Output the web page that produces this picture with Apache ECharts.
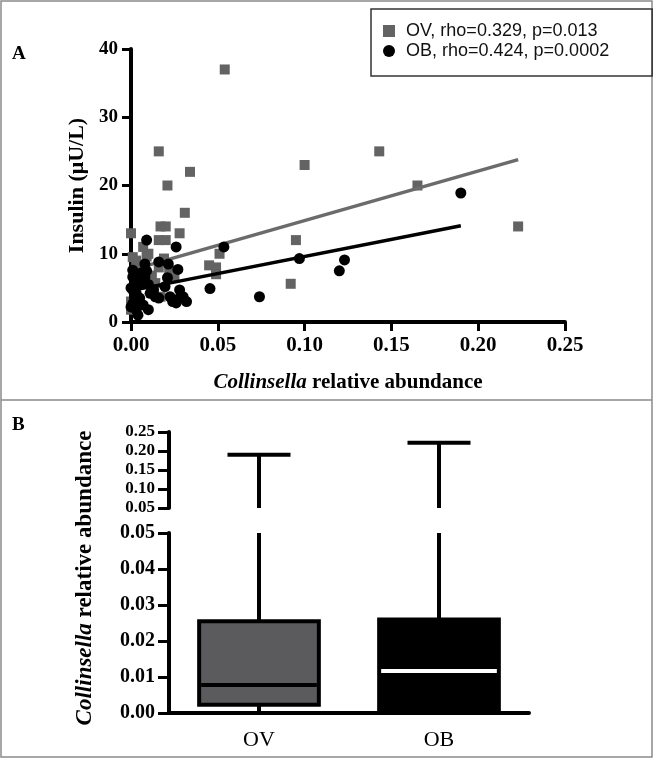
<!DOCTYPE html>
<html>
<head>
<meta charset="utf-8">
<script src="https://cdn.jsdelivr.net/npm/echarts@6/dist/echarts.min.js"></script>
<style>
html,body{margin:0;padding:0;background:#fff;}
#chart{width:655px;height:760px;}
</style>
</head>
<body>
<div id="chart"></div>
<script>
// ---------- Panel A data ----------
const xTickLabels = ['0.00','0.05','0.10','0.15','0.20','0.25'];
const yTickLabels = ['0','10','20','30','40'];
const legendOV = 'OV, rho=0.329, p=0.013';
const legendOB = 'OB, rho=0.424, p=0.0002';
const ovPoints = [
  [0.054,37],[0.016,25],[0.034,22],[0.021,20],[0.100,23],[0.143,25],[0.165,20],[0.223,14],
  [0.095,12],[0.092,5.6],[0.031,16],[0.028,13],[0.000,13],[0.017,14],[0.020,14],[0.016,12],
  [0.020,12],[0.045,8.3],[0.049,8],[0.049,7],[0.051,10],[0.007,11],[0.010,10],[0.001,9.5],
  [0.003,9],[0.019,9.3],[0.014,5.7],[0.017,3.7],[0.000,1.8],[0.022,7.5],[0.025,6.5],
  [0.004,8],[0.012,6.8],[0.000,3],[0.009,9.6],[0.016,8]
];
const obPoints = [
  [0.009,12],[0.026,11],[0.0535,11],[0.016,8.8],[0.0215,8.5],[0.027,7.7],[0.021,6.5],
  [0.008,8.5],[0.009,7.5],[0.008,6.6],[0.001,7.6],[0.001,6.6],[0.002,5.7],[0.001,4.7],
  [0.002,3.7],[0.001,2.7],[0.003,1.8],[0.004,1.0],[0.010,1.8],[0.011,4.2],[0.014,3.7],
  [0.013,4.7],[0.0225,3.7],[0.024,3.0],[0.028,4.7],[0.030,3.7],[0.032,3.0],[0.0196,5.2],
  [0.0455,4.9],[0.074,3.7],[0.097,9.3],[0.120,7.5],[0.123,9.1],[0.190,18.9],[0.006,5.5],
  [0.005,3.5],[0.007,2.5],[0.004,6.2],[0.003,4.2],[0.006,7.2],[0.000,5.0],[0.000,2.2],
  [0.010,5.5],[0.026,2.8],[0.028,3.5],[0.016,3.5]
];
const ovFit = [[0.000,7.6],[0.223,23.8]];
const obFit = [[0.000,4.6],[0.190,14.1]];

// ---------- Panel B data ----------
const boxCategories = ['OV','OB'];
// [min, Q1, median, Q3, max]
const boxOV = [0.000, 0.0023, 0.0078, 0.0255, 0.190];
const boxOB = [0.000, 0.0009, 0.0117, 0.0260, 0.222];
const lowerTicks = ['0.00','0.01','0.02','0.03','0.04','0.05'];
const upperTicks = ['0.05','0.10','0.15','0.20','0.25'];

const SERIF = '"Liberation Serif","DejaVu Serif",serif';
const SANS = '"Liberation Sans",Arial,sans-serif';

const BREAK_LO = 0.05;   // top of lower segment
const BREAK_HI = 0.05;   // bottom of upper segment
const boxes = [
  {stats: boxOV, fill: '#5b5b5d', median: '#000000'},
  {stats: boxOB, fill: '#000000', median: '#ffffff'}
];

function lowerRender(params, api) {
  const idx = api.value(0);
  const b = boxes[idx];
  const s = b.stats;
  const clamp = v => Math.min(v, BREAK_LO);
  const band = api.size([1, 0])[0];
  const bw = band * 0.665;
  const cx = api.coord([idx, 0])[0];
  const yQ1 = api.coord([idx, clamp(s[1])])[1];
  const yQ3 = api.coord([idx, clamp(s[3])])[1];
  const yMed = api.coord([idx, clamp(s[2])])[1];
  const yMin = api.coord([idx, clamp(s[0])])[1];
  const yTop = api.coord([idx, clamp(s[4])])[1];
  return {type: 'group', children: [
    {type: 'line', shape: {x1: cx, y1: yQ3, x2: cx, y2: yTop}, style: {stroke: '#000', lineWidth: 4}},
    {type: 'line', shape: {x1: cx, y1: yQ1, x2: cx, y2: yMin}, style: {stroke: '#000', lineWidth: 4}},
    {type: 'rect', shape: {x: cx - bw / 2, y: yQ3, width: bw, height: yQ1 - yQ3},
      style: {fill: b.fill, stroke: '#000', lineWidth: 4}},
    {type: 'line', shape: {x1: cx - bw / 2 + 2, y1: yMed, x2: cx + bw / 2 - 2, y2: yMed},
      style: {stroke: b.median, lineWidth: 4}}
  ]};
}

function upperRender(params, api) {
  const idx = api.value(0);
  const s = boxes[idx].stats;
  const band = api.size([1, 0])[0];
  const cw = band * 0.35;
  const cx = api.coord([idx, 0])[0];
  const yLow = api.coord([idx, BREAK_HI])[1];
  const yMax = api.coord([idx, s[4]])[1];
  return {type: 'group', children: [
    {type: 'line', shape: {x1: cx, y1: yLow, x2: cx, y2: yMax}, style: {stroke: '#000', lineWidth: 4}},
    {type: 'line', shape: {x1: cx - cw / 2, y1: yMax, x2: cx + cw / 2, y2: yMax}, style: {stroke: '#000', lineWidth: 4}}
  ]};
}

const axisLineStyle = {show: true, lineStyle: {color: '#000', width: 4}};
const tickStyle = (len) => ({show: true, length: len, lineStyle: {color: '#000', width: 3}});
const boldLabel = (size, margin, fmt, lh) => ({
  margin: margin, fontFamily: SERIF, fontWeight: 'bold', fontSize: size, color: '#000',
  lineHeight: lh || size, showMinLabel: true, showMaxLabel: true, formatter: fmt
});

const chart = echarts.init(document.getElementById('chart'), null, {renderer: 'canvas'});
const option = {
  animation: false,
  backgroundColor: '#ffffff',
  graphic: [
    {type: 'rect', shape: {x: 1, y: 1, width: 651, height: 756}, style: {fill: 'none', stroke: '#8a8a8a', lineWidth: 1.5}, silent: true},
    {type: 'line', shape: {x1: 1, y1: 400, x2: 652, y2: 400}, style: {stroke: '#8a8a8a', lineWidth: 1.5}, silent: true},
    {type: 'text', left: 12, top: 45, style: {text: 'A', font: 'bold 19px ' + SERIF, fill: '#000'}},
    {type: 'text', left: 12, top: 416, style: {text: 'B', font: 'bold 19px ' + SERIF, fill: '#000'}},
    {type: 'text', x: 85, y: 578, rotation: Math.PI / 2, silent: true,
      style: {text: '{i|Collinsella} relative abundance', align: 'center', verticalAlign: 'middle',
        font: 'bold 23px ' + SERIF, fill: '#000',
        rich: {i: {fontFamily: SERIF, fontWeight: 'bold', fontStyle: 'italic', fontSize: 23, fill: '#000'}}}}
  ],
  legend: {
    orient: 'vertical',
    left: 371, top: 9,
    padding: [13, 43, 16, 12],
    borderColor: '#333', borderWidth: 1.5,
    itemWidth: 12, itemHeight: 12, itemGap: 2,
    textStyle: {fontFamily: SANS, fontSize: 18, lineHeight: 18, color: '#111', padding: [0, 0, 0, 6]},
    data: [{name: legendOV, icon: 'rect'}, {name: legendOB, icon: 'circle'}]
  },
  grid: [
    {left: 131, top: 49, width: 434, height: 273, outerBoundsMode: 'none', containLabel: false},
    {left: 169, top: 432, width: 360, height: 76, outerBoundsMode: 'none', containLabel: false},
    {left: 169, top: 533, width: 360, height: 180, outerBoundsMode: 'none', containLabel: false}
  ],
  xAxis: [
    {
      gridIndex: 0, type: 'value', min: 0, max: 0.25, interval: 0.05,
      axisLine: axisLineStyle, axisTick: tickStyle(9), splitLine: {show: false},
      axisLabel: boldLabel(21, 13, (v) => xTickLabels[Math.round(v / 0.05)]),
      name: '{i|Collinsella} relative abundance', nameLocation: 'middle', nameGap: 50,
      nameTextStyle: {fontFamily: SERIF, fontWeight: 'bold', fontSize: 21, color: '#000',
        rich: {i: {fontFamily: SERIF, fontWeight: 'bold', fontStyle: 'italic', fontSize: 21, color: '#000'}}}
    },
    {
      gridIndex: 1, type: 'category', data: boxCategories, show: false
    },
    {
      gridIndex: 2, type: 'category', data: boxCategories,
      axisLine: axisLineStyle, axisTick: {show: false},
      axisLabel: {margin: 16, fontFamily: SERIF, fontSize: 22, color: '#000'}
    }
  ],
  yAxis: [
    {
      gridIndex: 0, type: 'value', min: 0, max: 40, interval: 10,
      axisLine: axisLineStyle, axisTick: tickStyle(9), splitLine: {show: false},
      axisLabel: boldLabel(19, 13, (v) => yTickLabels[Math.round(v / 10)]),
      name: 'Insulin (\u03bcU/L)', nameLocation: 'middle', nameGap: 42,
      nameTextStyle: {fontFamily: SERIF, fontWeight: 'bold', fontSize: 22, color: '#000'}
    },
    {
      gridIndex: 1, type: 'value', min: 0.05, max: 0.25, interval: 0.05,
      axisLine: axisLineStyle, axisTick: tickStyle(11), splitLine: {show: false},
      axisLabel: boldLabel(17, 14, (v) => upperTicks[Math.round((v - 0.05) / 0.05)], 12)
    },
    {
      gridIndex: 2, type: 'value', min: 0, max: 0.05, interval: 0.01,
      axisLine: axisLineStyle, axisTick: tickStyle(11), splitLine: {show: false},
      axisLabel: boldLabel(20, 14, (v) => lowerTicks[Math.round(v / 0.01)])
    }
  ],
  series: [
    {name: legendOV, type: 'scatter', xAxisIndex: 0, yAxisIndex: 0, symbol: 'rect', symbolSize: 10,
      itemStyle: {color: '#636363', opacity: 1}, data: ovPoints, z: 2},
    {name: 'OV fit', type: 'line', xAxisIndex: 0, yAxisIndex: 0, data: ovFit, symbol: 'none',
      lineStyle: {color: '#6b6b6b', width: 3.5}, z: 3},
    {name: legendOB, type: 'scatter', xAxisIndex: 0, yAxisIndex: 0, symbol: 'circle', symbolSize: 11,
      itemStyle: {color: '#000', opacity: 1}, data: obPoints, z: 4},
    {name: 'OB fit', type: 'line', xAxisIndex: 0, yAxisIndex: 0, data: obFit, symbol: 'none',
      lineStyle: {color: '#000', width: 3.5}, z: 5},
    {name: 'box upper', type: 'custom', xAxisIndex: 1, yAxisIndex: 1, renderItem: upperRender,
      data: [[0], [1]], encode: {x: 0}, z: 3},
    {name: 'box lower', type: 'custom', xAxisIndex: 2, yAxisIndex: 2, renderItem: lowerRender,
      data: [[0], [1]], encode: {x: 0}, z: 3}
  ]
};
chart.setOption(option);
</script>
</body>
</html>
